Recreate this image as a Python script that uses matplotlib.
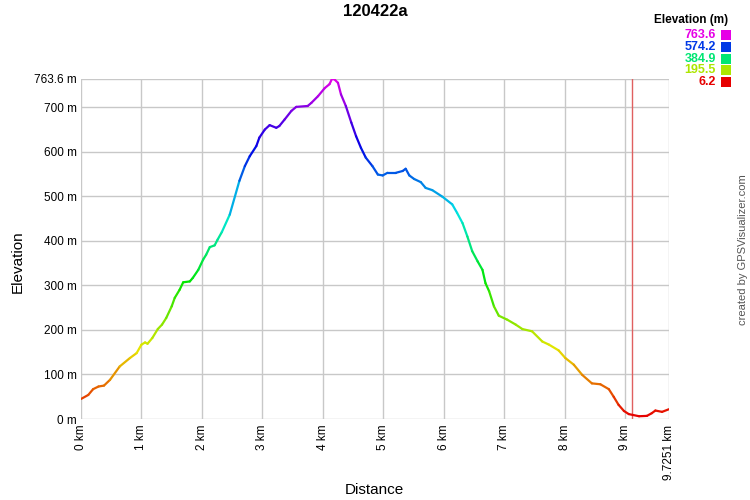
import matplotlib
matplotlib.use("Agg")
import matplotlib.pyplot as plt
import numpy as np
from matplotlib.collections import LineCollection
from matplotlib.colors import hsv_to_rgb
from matplotlib.patches import Rectangle

plt.rcParams['font.family'] = ['Liberation Sans', 'DejaVu Sans']

title = "120422a"
distance_km = [0.0, 0.12, 0.20, 0.29, 0.38, 0.48, 0.64, 0.81, 0.92, 1.00, 1.06, 1.10, 1.18, 1.27,
               1.34, 1.41, 1.50, 1.55, 1.63, 1.69, 1.80, 1.85, 1.94, 2.02, 2.07, 2.13, 2.21, 2.26,
               2.33, 2.46, 2.62, 2.71, 2.79, 2.90, 2.95, 3.04, 3.12, 3.23, 3.28, 3.37, 3.48, 3.56,
               3.75, 3.81, 3.92, 4.03, 4.11, 4.15, 4.19, 4.25, 4.30, 4.38, 4.47, 4.55, 4.63, 4.71,
               4.82, 4.91, 4.99, 5.07, 5.21, 5.32, 5.37, 5.43, 5.51, 5.62, 5.70, 5.81, 5.98, 6.14,
               6.22, 6.31, 6.39, 6.47, 6.56, 6.64, 6.69, 6.75, 6.83, 6.91, 7.05, 7.19, 7.30, 7.46,
               7.63, 7.74, 7.90, 8.01, 8.15, 8.29, 8.45, 8.59, 8.73, 8.81, 8.89, 8.98, 9.06, 9.23,
               9.36, 9.44, 9.50, 9.61, 9.7251]
elevation_m = [45, 54, 67, 73, 75, 88, 118, 137, 148, 167, 172, 169, 182, 202,
               212, 227, 253, 272, 290, 307, 309, 317, 335, 358, 369, 386, 390, 403,
               420, 459, 535, 568, 590, 613, 632, 650, 660, 654, 658, 673, 692, 701,
               703, 710, 725, 743, 752, 763.6, 763, 755, 729, 703, 666, 635, 609, 587,
               568, 549, 547, 553, 553, 557, 562, 547, 539, 532, 519, 514, 499, 482,
               463, 440, 410, 377, 354, 335, 305, 287, 253, 232, 223, 212, 202, 197,
               174, 167, 154, 137, 122, 99, 80, 78, 67, 50, 32, 18, 11, 6.2,
               7, 13, 19, 16, 22]
y_ticks = [0, 100, 200, 300, 400, 500, 600, 700]
x_ticks = [0, 1, 2, 3, 4, 5, 6, 7, 8, 9]
legend_values = [763.6, 574.2, 384.9, 195.5, 6.2]
marker_km = 9.12

emin, emax = 6.2, 763.6
dmax = 9.7251


def elev_color(e):
    f = (e - emin) / (emax - emin)
    f = min(max(f, 0), 1)
    return hsv_to_rgb([300.0 / 360.0 * f, 1.0, 0.9])


fig = plt.figure(figsize=(7.5, 5), dpi=100)
ax = fig.add_axes([81 / 750, 81 / 500, 588 / 750, 340 / 500])

d = np.array(distance_km)
e = np.array(elevation_m)
pts = np.column_stack([d, e]).reshape(-1, 1, 2)
segs = np.concatenate([pts[:-1], pts[1:]], axis=1)
cols = [elev_color((e[i] + e[i + 1]) / 2) for i in range(len(e) - 1)]
lc = LineCollection(segs, colors=cols, linewidths=1.6, capstyle='round', joinstyle='round', zorder=3)
ax.add_collection(lc)

ax.set_xlim(0, dmax)
ax.set_ylim(0, emax)

grid_c = '#c8c8c8'
for v in y_ticks + [emax]:
    ax.axhline(v, color=grid_c, lw=1, zorder=1)
for v in x_ticks + [dmax]:
    ax.axvline(v, color=grid_c, lw=1, zorder=1)
ax.axvline(marker_km, color='#e06060', lw=1, zorder=2)

for s in ax.spines.values():
    s.set_visible(False)

ax.set_yticks(y_ticks + [emax])
ax.set_yticklabels([f"{v} m" for v in y_ticks] + ["763.6 m"], fontsize=8.5)
ax.set_xticks(x_ticks + [dmax])
ax.set_xticklabels([f"{v} km" for v in x_ticks] + ["9.7251 km"], rotation=90, fontsize=8.5)
ax.tick_params(axis='y', length=0, pad=3)
ax.tick_params(axis='x', length=0, pad=4)

fig.text(18 / 750, 1 - 262 / 500, "Elevation", rotation=90, ha='center', va='center', fontsize=11)
fig.text(374 / 750, 1 - 490 / 500, "Distance", ha='center', va='center', fontsize=11)

fig.text(375 / 750, 1 - 12 / 500, title, ha='center', va='center', fontsize=12, fontweight='bold')

fig.text(728 / 750, 1 - 20 / 500, "Elevation (m)", ha='right', va='center', fontsize=8.5, fontweight='bold')
for i, v in enumerate(legend_values):
    y = 35 + i * 11.8
    c = elev_color(v)
    fig.text(716 / 750, 1 - y / 500, f"{v}", ha='right', va='center', fontsize=9, color=c, fontweight='bold')
    fig.add_artist(Rectangle((721 / 750, 1 - (y + 5) / 500), 10 / 750, 10 / 500,
                             transform=fig.transFigure, facecolor=c, edgecolor='none'))

fig.text(743 / 750, 1 - 250 / 500, "created by GPSVisualizer.com", rotation=90, ha='center', va='center',
         fontsize=8, color='#555555')

fig.savefig("out.png", dpi=100)
